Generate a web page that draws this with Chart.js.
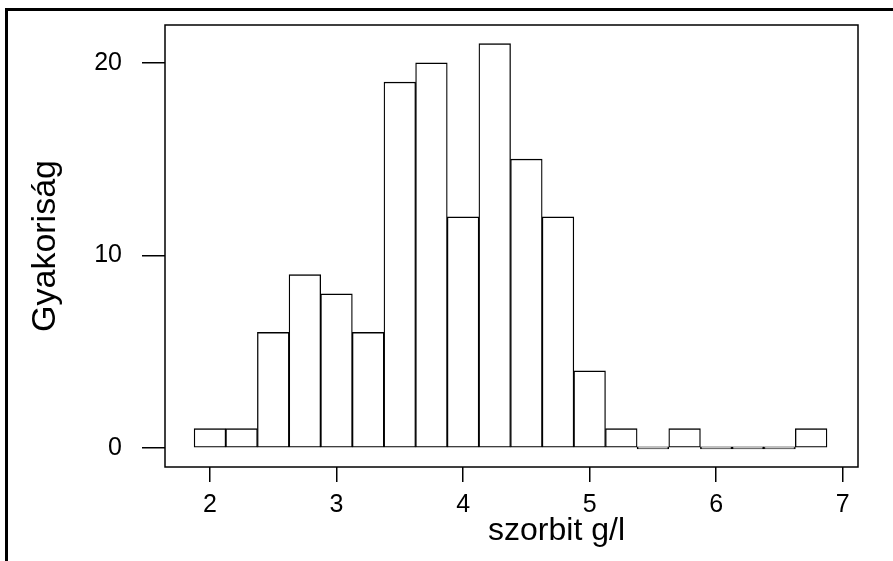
<!DOCTYPE html>
<html>
<head>
<meta charset="utf-8">
<script src="https://cdn.jsdelivr.net/npm/chart.js@4"></script>
<style>
  html, body { margin: 0; padding: 0; background: #fff; overflow: hidden; }
  #frame { position: absolute; left: 5px; top: 8px; width: 900px; height: 600px;
           border-top: 3px solid #000; border-left: 3px solid #000; }
  #mycan { position: absolute; left: 0; top: 0; }
</style>
</head>
<body>
<div id="frame"></div>
<canvas id="mycan" width="893" height="561"></canvas>
<script>
// histogram bins (centres, width 0.25) and counts
var binCenters = [2.0, 2.25, 2.5, 2.75, 3.0, 3.25, 3.5, 3.75, 4.0, 4.25,
                  4.5, 4.75, 5.0, 5.25, 5.5, 5.75, 6.0, 6.25, 6.5, 6.75];
var counts = [1, 1, 6, 9, 8, 6, 19, 20, 12, 21,
              15, 12, 4, 1, 0, 1, 0, 0, 0, 1];
var xTicks = [2, 3, 4, 5, 6, 7];
var yTicks = [0, 10, 20];
var xTitle = 'szorbit g/l';
var yTitle = 'Gyakoriság';

var fontFam = "'Liberation Sans', Arial, sans-serif";

var points = [];
for (var i in binCenters) {
  points.push({x: binCenters[i], y: counts[i]});
}

// box around the plot area + x axis title
var boxPlugin = {
  id: 'box',
  afterDraw: function(chart) {
    var a = chart.chartArea;
    var ctx = chart.ctx;
    ctx.save();
    ctx.strokeStyle = '#000';
    ctx.lineWidth = 1.5;
    ctx.strokeRect(a.left, a.top, a.right - a.left, a.bottom - a.top);
    ctx.fillStyle = '#000';
    ctx.font = '32px ' + fontFam;
    ctx.textAlign = 'center';
    ctx.textBaseline = 'alphabetic';
    ctx.fillText(xTitle, a.left + (a.right - a.left) * 0.565, a.bottom + 73);
    ctx.restore();
  }
};

var ctx = document.getElementById('mycan');
var chart = new Chart(ctx, {
  type: 'bar',
  data: {
    datasets: [{
      data: points,
      backgroundColor: '#fff',
      borderColor: '#000',
      borderWidth: 1.3,
      borderSkipped: false,
      minBarLength: 2,
      barPercentage: 1,
      categoryPercentage: 1
    }]
  },
  options: {
    responsive: false,
    animation: false,
    layout: { padding: { top: 25, right: 35, left: 0, bottom: 0 } },
    plugins: { legend: { display: false }, tooltip: { enabled: false } },
    scales: {
      x: {
        type: 'linear',
        offset: false,
        min: 1.645,
        max: 7.12,
        afterBuildTicks: function(s) { s.ticks = xTicks.map(function(v) { return {value: v}; }); },
        afterFit: function(s) { s.height = 94; s.paddingLeft = 0; s.paddingRight = 0; },
        border: { display: false },
        grid: { offset: false, drawOnChartArea: false, drawTicks: true, tickLength: 15, tickColor: '#000', lineWidth: 1.5 },
        ticks: { color: '#000', padding: 8, maxRotation: 0, font: { family: fontFam, size: 25 } }
      },
      y: {
        min: -0.99,
        max: 21.97,
        afterBuildTicks: function(s) { s.ticks = yTicks.map(function(v) { return {value: v}; }); },
        afterFit: function(s) { s.width = 165; s.paddingTop = 0; s.paddingBottom = 0; },
        border: { display: false },
        grid: { drawOnChartArea: false, drawTicks: true, tickLength: 23, tickColor: '#000', lineWidth: 1.5 },
        ticks: { color: '#000', padding: 20, font: { family: fontFam, size: 25 } },
        title: { display: true, text: yTitle, color: '#000', padding: { top: 25, bottom: 0 },
                 font: { family: fontFam, size: 34 } }
      }
    }
  },
  plugins: [boxPlugin]
});
</script>
</body>
</html>
